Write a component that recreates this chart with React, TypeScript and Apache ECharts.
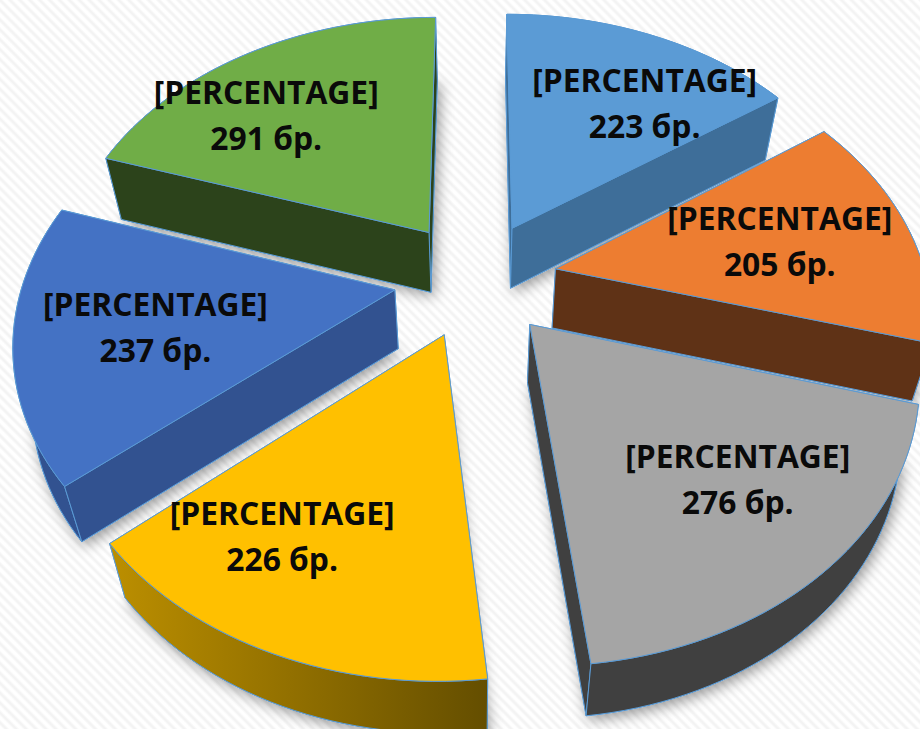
import React, { useEffect, useRef } from "react";
import * as echarts from "echarts";

const categories = ["A", "B", "C", "D", "E", "F"];
const counts = [223, 205, 276, 226, 237, 291];
const labelTemplate = "[PERCENTAGE]";
const unit = "бр.";
const topColors = ["#5B9BD5", "#ED7D31", "#A5A5A5", "#FFC000", "#4472C4", "#70AD47"];
const sideColors = ["#3E6E99", "#5F3216", "#404040", "", "#325290", "#2C431B"];

// projection of the tilted pie
const CX = 475.5, CY = 278.5, A = 371, B = 266, P = 0.17, EXPLODE = 0.22;
const DEPTH = 59, KX = 0.958, KY = 0.982, LABEL_R = 0.68;
const LABEL_TURN = [10, 1, -3, 7, -2, -9];
const LABEL_DX = [-1, -18, 8, -18, 17, -6];
const LABEL_DY = [-2, -2, 1.5, 10, -6, -6];

const project = (X: number, Y: number): number[] => {
  const s = 1 / (1 + P * Y);
  return [CX + A * X * s, CY - B * Y * s];
};
const lower = (p: number[]): number[] => [CX + (p[0] - CX) * KX, CY + (p[1] - CY) * KY + DEPTH];
const EDGE = "#5B9BD5";
const total = counts.reduce((a, b) => a + b, 0);

function renderItem(params: any, api: any) {
  const i = params.dataIndex;
  const v = api.value(1);
  const before = counts.slice(0, i).reduce((a, b) => a + b, 0);
  const t0 = (before / total) * Math.PI * 2;
  const t1 = ((before + v) / total) * Math.PI * 2;
  const mid = (t0 + t1) / 2;
  const ox = EXPLODE * Math.sin(mid), oy = EXPLODE * Math.cos(mid);
  const apex = project(ox, oy);
  const arc: number[][] = [];
  const arcY: number[] = [];
  const n = Math.ceil((t1 - t0) / 0.03);
  for (let k = 0; k <= n; k++) {
    const t = t0 + ((t1 - t0) * k) / n;
    arc.push(project(ox + Math.sin(t), oy + Math.cos(t)));
    arcY.push(oy + Math.cos(t));
  }
  const topPts = [apex, ...arc];
  const lowApex = lower(apex);
  const lowArc = arc.map(lower);
  const side: any = sideColors[i] || {
    type: "linear", x: 0, y: 0, x2: 1, y2: 0,
    colorStops: [{ offset: 0, color: "#BC8F00" }, { offset: 1, color: "#644E00" }],
  };
  const flat = sideColors[i] || "#7F6000";
  const base = Math.round(-oy * 100) * 20;
  const line = { stroke: EDGE, lineWidth: 1 };
  const poly = (pts: number[][], fill: any, z: number, extra: any = {}) => ({
    type: "polygon", silent: true, z2: base + z,
    shape: { points: pts }, style: { fill, ...line, ...extra },
  });
  const wall = (a: number[], b: number[]) => [a, b, lower(b), lower(a)];
  const rim = [...arc, ...lowArc.slice().reverse()];
  const wallStart = wall(apex, arc[0]);
  const wallEnd = wall(apex, arc[n]);
  const wallOrder = [
    { pts: rim, y: arcY.reduce((a, b) => a + b, 0) / arcY.length, fill: side },
    { pts: wallStart, y: (oy + arcY[0]) / 2, fill: flat },
    { pts: wallEnd, y: (oy + arcY[n]) / 2, fill: flat },
  ].sort((a, b) => b.y - a.y);
  const children: any[] = [
    poly([lowApex, ...lowArc], flat, 0, {
      shadowBlur: 14, shadowColor: "rgba(0,0,0,0.4)", shadowOffsetX: 3, shadowOffsetY: 4,
    }),
    ...wallOrder.map((w, k) => poly(w.pts, w.fill, k + 1)),
    poly(topPts, topColors[i], 6),
  ];
  const lt = mid + (LABEL_TURN[i] * Math.PI) / 180;
  const at = project(ox + LABEL_R * Math.sin(lt), oy + LABEL_R * Math.cos(lt));
  children.push({
    type: "text", silent: true, z2: 9000,
    style: {
      text: `${labelTemplate}\n${v} ${unit}`,
      x: at[0] + LABEL_DX[i], y: at[1] + LABEL_DY[i], align: "center", verticalAlign: "middle",
      font: 'bold 31.8px "Open Sans", sans-serif', lineHeight: 46, fill: "#0A0A0A",
    },
  });
  return { type: "group", children };
}

export default function App() {
  const ref = useRef<HTMLDivElement>(null);
  useEffect(() => {
    document.body.style.margin = "0";
    const chart = echarts.init(ref.current!, undefined, { renderer: "svg" });
    chart.setOption({
      animation: false,
      series: [{
        type: "custom", coordinateSystem: "none", clip: false,
        renderItem,
        data: categories.map((c, i) => [c, counts[i]]),
      }],
    });
    return () => chart.dispose();
  }, []);
  return (
    <div ref={ref} style={{
      width: 920, height: 729, overflow: "hidden",
      background: "repeating-linear-gradient(45deg,#ffffff 0px,#ffffff 2px,#f3f3f3 4px,#f3f3f3 5px,#ffffff 7px)",
    }} />
  );
}
